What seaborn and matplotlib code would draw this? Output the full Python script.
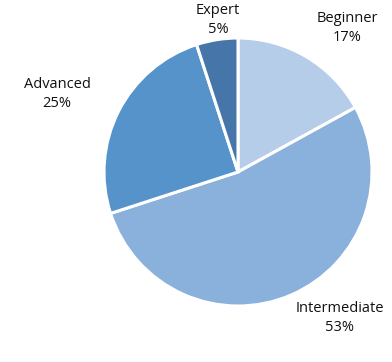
import matplotlib
matplotlib.use("Agg")
import matplotlib.pyplot as plt
import seaborn as sns

categories = ["Beginner", "Intermediate", "Advanced", "Expert"]
values = [17, 53, 25, 5]
colors = ["#b6cde9", "#8ab0dc", "#5693cb", "#4676a9"]
label_pos = [(0.813, 1.075), (0.761, -1.09), (-1.351, 0.582), (-0.149, 1.134)]

sns.set_style("white")
plt.rcParams['font.family'] = ['Open Sans', 'DejaVu Sans']

fig = plt.figure(figsize=(3.92, 3.62), dpi=100)
ax = fig.add_axes([0, 0, 1, 1])
ax.pie(values, colors=colors, startangle=90, counterclock=False,
       wedgeprops=dict(edgecolor="white", linewidth=2.2))
for cat, v, (x, y) in zip(categories, values, label_pos):
    ax.text(x, y, f"{cat}\n{v}%", ha="center", va="center", fontsize=10.5,
            color="#111111", linespacing=1.3)
ax.set_aspect("auto")
ax.set_xlim(-238 / 134, (392 - 238) / 134)
ax.set_ylim(-(362 - 172) / 134, 172 / 134)
ax.axis("off")
fig.savefig("out.png", dpi=100)
